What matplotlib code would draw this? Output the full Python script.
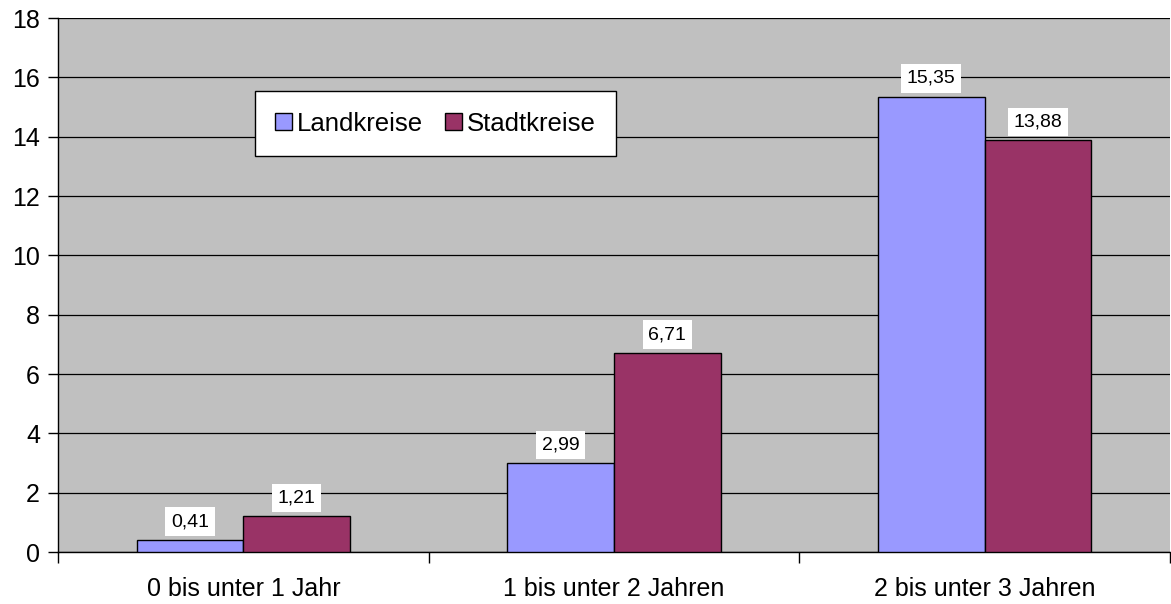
import numpy as np
from matplotlib import pyplot as plt
from matplotlib.patches import Patch

plt.rcParams['font.family'] = ['Liberation Sans', 'DejaVu Sans']

categories = ['0 bis unter 1 Jahr', '1 bis unter 2 Jahren', '2 bis unter 3 Jahren']
landkreise = [0.41, 2.99, 15.35]
stadtkreise = [1.21, 6.71, 13.88]
series_names = ['Landkreise', 'Stadtkreise']
colors = ['#9999FF', '#993366']

fig = plt.figure(figsize=(11.71, 6.04), dpi=100)
ax = fig.add_axes([58 / 1171, 1 - 552 / 604, 1 - 58 / 1171 - 1 / 1171, (552 - 18) / 604])
ax.set_facecolor('#C0C0C0')

x = np.arange(len(categories))
w = 0.288

b1 = ax.bar(x - w / 2, landkreise, w, color=colors[0], edgecolor='black', linewidth=1, zorder=3)
b2 = ax.bar(x + w / 2, stadtkreise, w, color=colors[1], edgecolor='black', linewidth=1, zorder=3)

def fmt(v):
    return ('%.2f' % v).replace('.', ',')

for bars, vals in [(b1, landkreise), (b2, stadtkreise)]:
    for rect, v in zip(bars, vals):
        ax.annotate(fmt(v), (rect.get_x() + rect.get_width() / 2, v),
                    xytext=(0, 7), textcoords='offset points', ha='center', va='bottom',
                    fontsize=14, zorder=5,
                    bbox=dict(boxstyle='square,pad=0.3', fc='white', ec='none'))

ax.set_xlim(-0.5, 2.5)
ax.set_ylim(0, 18)
ax.set_yticks(np.arange(0, 19, 2))
ax.yaxis.grid(True, color='black', linewidth=0.9, zorder=1)
ax.tick_params(axis='y', direction='out', length=7, width=1, labelsize=18, pad=6)

ax.set_xticks(x)
ax.set_xticklabels(categories, fontsize=18)
ax.set_xticks([-0.5, 0.5, 1.5, 2.5], minor=True)
ax.tick_params(axis='x', which='major', length=0, pad=18)
ax.tick_params(axis='x', which='minor', direction='out', length=8, width=1)

for s in ['top', 'right']:
    ax.spines[s].set_visible(False)
ax.spines['left'].set_linewidth(1)
ax.spines['bottom'].set_linewidth(1)

handles = [Patch(facecolor=c, edgecolor='black', linewidth=1) for c in colors]
leg = ax.legend(handles, series_names, loc='upper left', bbox_to_anchor=(197 / 1113, 1 - 73 / 534),
                ncol=2, fontsize=18.5, frameon=True, fancybox=False, framealpha=1,
                edgecolor='black', handlelength=0.65, handleheight=0.65, handletextpad=0.2,
                columnspacing=0.85, borderpad=0.8, borderaxespad=0)
leg.get_frame().set_linewidth(1)

fig.savefig('out.png', dpi=100)
